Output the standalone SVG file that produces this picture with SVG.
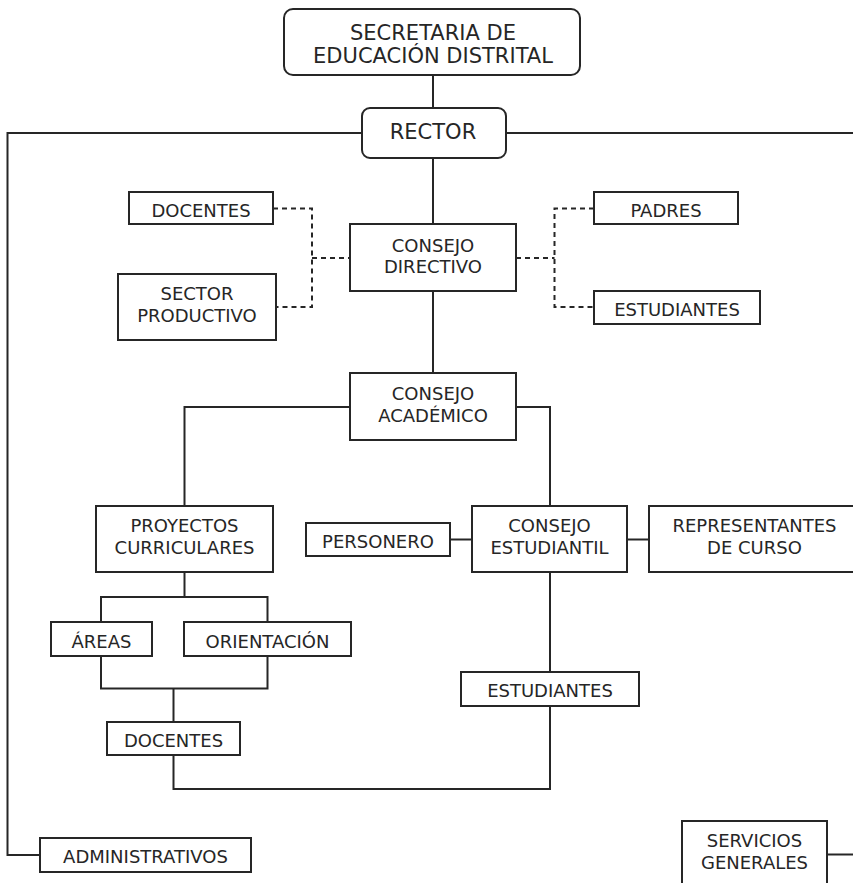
<svg xmlns="http://www.w3.org/2000/svg" width="853" height="883" viewBox="0 0 853 883">
<style>
.b{fill:#fff;stroke:#262626;stroke-width:2}
.t{font-family:"DejaVu Sans","Verdana",sans-serif;font-size:18px;fill:#262626;text-anchor:middle}
.big{font-size:21px}
.c{fill:none;stroke:#262626;stroke-width:2}
.d{fill:none;stroke:#262626;stroke-width:2;stroke-dasharray:5,4}
</style>
<rect width="853" height="883" fill="#fff"/>
<g id="connectors">
  <path class="c" d="M433,75 V108"/>
  <path class="c" d="M362,133 H7.5 V855 H40"/>
  <path class="c" d="M506,133 H855"/>
  <path class="c" d="M433,158 V224"/>
  <path class="c" d="M433,291 V373"/>
  <path class="d" d="M273,208.5 H312 V307 H276"/>
  <path class="d" d="M312,258 H350"/>
  <path class="d" d="M516,258 H554.5"/>
  <path class="d" d="M594,208.5 H554.5 V307 H594"/>
  <path class="c" d="M350,407 H184.5 V506"/>
  <path class="c" d="M516,407 H550 V506"/>
  <path class="c" d="M450,539.5 H472"/>
  <path class="c" d="M627,539.5 H649"/>
  <path class="c" d="M184.5,572 V597"/>
  <path class="c" d="M101,622 V597 H267.5 V622"/>
  <path class="c" d="M101,656 V688.5 H267.5 V656"/>
  <path class="c" d="M173.5,688.5 V722"/>
  <path class="c" d="M550,572 V672"/>
  <path class="c" d="M550,706 V789 H173.5 V755"/>
  <path class="c" d="M827,854.5 H855"/>
</g>
<g id="secretaria">
  <rect class="b" x="284" y="9" width="296" height="66" rx="9"/>
  <text class="t big" x="433" y="39.5">SECRETARIA DE</text>
  <text class="t big" x="433" y="62.5">EDUCACIÓN DISTRITAL</text>
</g>
<g id="rector">
  <rect class="b" x="362" y="108" width="144" height="50" rx="8"/>
  <text class="t big" x="433" y="138.5">RECTOR</text>
</g>
<g id="docentes-top">
  <rect class="b" x="129" y="192" width="144" height="32"/>
  <text class="t" x="201" y="216.7">DOCENTES</text>
</g>
<g id="sector-productivo">
  <rect class="b" x="118" y="274" width="158" height="66"/>
  <text class="t" x="197" y="300">SECTOR</text>
  <text class="t" x="197" y="321.7">PRODUCTIVO</text>
</g>
<g id="consejo-directivo">
  <rect class="b" x="350" y="224" width="166" height="67"/>
  <text class="t" x="433" y="251.7">CONSEJO</text>
  <text class="t" x="433" y="272.7">DIRECTIVO</text>
</g>
<g id="padres">
  <rect class="b" x="594" y="192" width="144" height="32"/>
  <text class="t" x="666" y="216.7">PADRES</text>
</g>
<g id="estudiantes-top">
  <rect class="b" x="594" y="291" width="166" height="33"/>
  <text class="t" x="677" y="316">ESTUDIANTES</text>
</g>
<g id="consejo-academico">
  <rect class="b" x="350" y="373" width="166" height="67"/>
  <text class="t" x="433" y="400">CONSEJO</text>
  <text class="t" x="433" y="421.7">ACADÉMICO</text>
</g>
<g id="proyectos-curriculares">
  <rect class="b" x="96" y="506" width="177" height="66"/>
  <text class="t" x="184.5" y="532.3">PROYECTOS</text>
  <text class="t" x="184.5" y="554">CURRICULARES</text>
</g>
<g id="personero">
  <rect class="b" x="306" y="523" width="144" height="33"/>
  <text class="t" x="378" y="548.3">PERSONERO</text>
</g>
<g id="consejo-estudiantil">
  <rect class="b" x="472" y="506" width="155" height="66"/>
  <text class="t" x="549.5" y="532.3">CONSEJO</text>
  <text class="t" x="549.5" y="554">ESTUDIANTIL</text>
</g>
<g id="representantes">
  <rect class="b" x="649" y="506" width="212" height="66"/>
  <text class="t" x="754.5" y="532.3">REPRESENTANTES</text>
  <text class="t" x="754.5" y="553.5">DE CURSO</text>
</g>
<g id="areas">
  <rect class="b" x="51" y="622" width="101" height="34"/>
  <text class="t" x="101.5" y="648">ÁREAS</text>
</g>
<g id="orientacion">
  <rect class="b" x="184" y="622" width="167" height="34"/>
  <text class="t" x="267.5" y="648">ORIENTACIÓN</text>
</g>
<g id="docentes-bottom">
  <rect class="b" x="107" y="722" width="133" height="33"/>
  <text class="t" x="173.5" y="746.7">DOCENTES</text>
</g>
<g id="estudiantes-bottom">
  <rect class="b" x="461" y="672" width="178" height="34"/>
  <text class="t" x="550" y="697.3">ESTUDIANTES</text>
</g>
<g id="administrativos">
  <rect class="b" x="40" y="838" width="211" height="34"/>
  <text class="t" x="145.5" y="863.3">ADMINISTRATIVOS</text>
</g>
<g id="servicios-generales">
  <rect class="b" x="682" y="821" width="145" height="80"/>
  <text class="t" x="754.5" y="847.3">SERVICIOS</text>
  <text class="t" x="754.5" y="869">GENERALES</text>
</g>
</svg>
